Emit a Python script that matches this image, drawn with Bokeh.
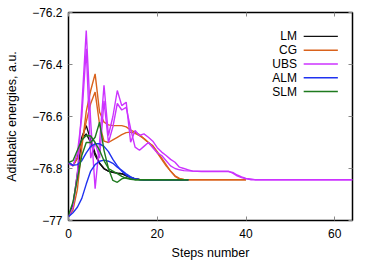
from bokeh.plotting import figure
from bokeh.models import Range1d, LinearAxis, FixedTicker, CustomJSTickFormatter, Label
from bokeh.embed import file_html
from bokeh.resources import INLINE

C = -76.843

# Each method: two optimisation traces (energy per step)
lm_a = [-76.777, -76.788, -76.76, -76.68, -76.635, -76.69, -76.74, -76.78, -76.80, -76.81,
        -76.815, -76.818, -76.82, -76.828, -76.835, -76.84, -76.842] + [C] * 11
lm_b = [-76.985, -76.94, -76.82, -76.685, -76.667, -76.70, -76.75, -76.78, -76.801, -76.81,
        -76.815, -76.818, -76.82, -76.826, -76.833, -76.84, -76.842] + [C] * 11

cg_a = [-76.985, -76.96, -76.88, -76.72, -76.58, -76.50, -76.436, -76.583, -76.622, -76.632,
        -76.635, -76.635, -76.635, -76.64, -76.652, -76.66, -76.67, -76.685, -76.70, -76.712,
        -76.735, -76.76, -76.785, -76.81, -76.83, -76.84] + [C] * 15
cg_b = [-76.78, -76.79, -76.76, -76.70, -76.62, -76.55, -76.506, -76.63, -76.695, -76.70,
        -76.69, -76.68, -76.67, -76.662, -76.66, -76.665, -76.674, -76.685, -76.70, -76.715,
        -76.74, -76.765, -76.79, -76.81, -76.828, -76.838, -76.842] + [C] * 14

ubs_a = [-76.985, -76.95, -76.82, -76.56, -76.269, -76.62, -76.878, -76.70, -76.48, -76.673,
         -76.60, -76.50, -76.558, -76.545, -76.699, -76.654, -76.673, -76.667, -76.68, -76.695,
         -76.72, -76.737, -76.75, -76.765, -76.776, -76.795, -76.80, -76.805, -76.81, -76.811,
         -76.812, -76.812, -76.812, -76.812, -76.812, -76.812, -76.812, -76.815, -76.825, -76.832,
         -76.838, -76.84] + [C] * 23
ubs_b = [-76.78, -76.79, -76.74, -76.60, -76.34, -76.76, -76.70, -76.76, -76.54, -76.70,
         -76.64, -76.55, -76.575, -76.565, -76.647, -76.718, -76.73, -76.715, -76.70, -76.72,
         -76.74, -76.75, -76.77, -76.79, -76.80, -76.805, -76.808, -76.809, -76.81, -76.81,
         -76.81, -76.81, -76.81, -76.81, -76.81, -76.81, -76.81, -76.818, -76.828, -76.835,
         -76.84] + [C] * 24

alm_a = [-76.777, -76.788, -76.785, -76.77, -76.74, -76.715, -76.705, -76.705, -76.715, -76.735,
         -76.765, -76.79, -76.81, -76.825, -76.835, -76.84] + [C] * 12
alm_b = [-76.985, -76.97, -76.949, -76.915, -76.86, -76.81, -76.785, -76.772, -76.768, -76.772,
         -76.78, -76.795, -76.807, -76.82, -76.832, -76.84] + [C] * 12

slm_a = [-76.777, -76.77, -76.73, -76.69, -76.673, -76.675, -76.70, -76.73, -76.77, -76.80,
         -76.81, -76.82, -76.83, -76.838, -76.842] + [C] * 13
slm_b = [-76.98, -76.93, -76.84, -76.75, -76.70, -76.70, -76.68, -76.622, -76.73, -76.80,
         -76.846, -76.853, -76.84, -76.835, -76.84] + [C] * 13

labels = ["LM", "CG", "UBS", "ALM", "SLM"]
colors = ["#111111", "#d9621c", "#cc33ff", "#1f32f0", "#1e7a1e"]
series = [(lm_a, lm_b), (cg_a, cg_b), (ubs_a, ubs_b), (alm_a, alm_b), (slm_a, slm_b)]

x_ticks = [0, 20, 40, 60]
y_ticks = [-77, -76.8, -76.6, -76.4, -76.2]

FONT = "Liberation Sans"

p = figure(width=374, height=262, output_backend="svg", toolbar_location=None,
           x_range=Range1d(0, 64), y_range=Range1d(-77, -76.2),
           min_border_left=68, min_border_right=22, min_border_top=12, min_border_bottom=42)
p.xgrid.visible = False
p.ygrid.visible = False
p.outline_line_color = "black"
p.outline_line_width = 1.5
p.background_fill_color = "white"
p.border_fill_color = "white"

for ax in (p.xaxis[0], p.yaxis[0]):
    ax.axis_line_color = None
    ax.major_tick_in = 4
    ax.major_tick_out = 0
    ax.major_tick_line_color = "#888888"
    ax.minor_tick_line_color = None
    ax.major_label_text_font = FONT
    ax.major_label_text_font_size = "12px"
    ax.major_label_text_color = "black"
    ax.axis_label_text_font = FONT
    ax.axis_label_text_font_size = "12.5px"
    ax.axis_label_text_font_style = "normal"
    ax.axis_label_text_color = "black"

p.xaxis[0].ticker = FixedTicker(ticks=x_ticks)
p.yaxis[0].ticker = FixedTicker(ticks=y_ticks)
p.yaxis[0].formatter = CustomJSTickFormatter(
    code="var s = (Math.round(tick*10)/10).toString(); return s.replace('-', '\u2212');")
p.xaxis[0].axis_label = "Steps number"
p.yaxis[0].axis_label = "Adiabatic energies, a.u."
p.xaxis[0].major_label_standoff = 8
p.xaxis[0].axis_label_standoff = 5
p.yaxis[0].major_label_standoff = 6
p.yaxis[0].axis_label_standoff = 10

# mirrored ticks on top and right
blank = CustomJSTickFormatter(code="return '';")
top = LinearAxis(ticker=FixedTicker(ticks=x_ticks), axis_line_color=None,
                 major_tick_in=4, major_tick_out=0, major_tick_line_color="#888888",
                 minor_tick_line_color=None, formatter=blank, major_label_standoff=0)
right = LinearAxis(ticker=FixedTicker(ticks=y_ticks), axis_line_color=None,
                   major_tick_in=4, major_tick_out=0, major_tick_line_color="#888888",
                   minor_tick_line_color=None, formatter=blank, major_label_standoff=0)
p.add_layout(top, "above")
p.add_layout(right, "right")

for (a, b), col in zip(series, colors):
    p.line(list(range(len(a))), a, line_color=col, line_width=1.4)
    p.line(list(range(len(b))), b, line_color=col, line_width=1.4)

# legend (label then line sample), positioned in data space
LEG_TEXT_X = 51.5
LEG_LINE_X0, LEG_LINE_X1 = 53.0, 60.7
LEG_Y0, LEG_DY = -76.292, 0.053
for i, (lab, col) in enumerate(zip(labels, colors)):
    yy = LEG_Y0 - i * LEG_DY
    p.add_layout(Label(x=LEG_TEXT_X, y=yy, text=lab, text_align="right",
                       text_baseline="middle", text_font=FONT,
                       text_font_size="12px", text_color="black"))
    p.line([LEG_LINE_X0, LEG_LINE_X1], [yy, yy], line_color=col, line_width=1.4)

open("out.html", "w").write(file_html(p, INLINE))
